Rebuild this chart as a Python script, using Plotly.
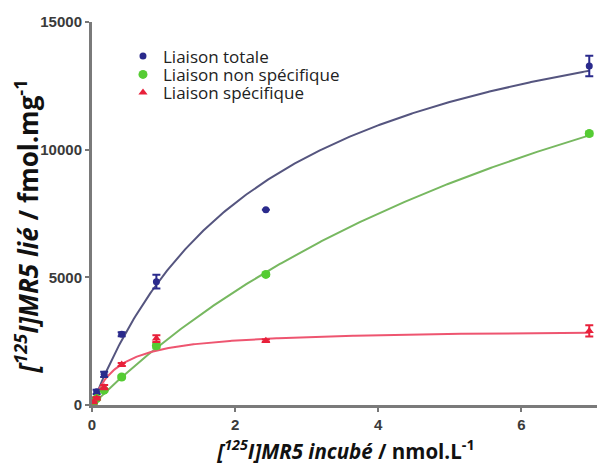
import numpy as np
import plotly.graph_objects as go

# Concentrations (nmol/L)
conc = [0.02, 0.065, 0.17, 0.415, 0.9, 2.43, 6.95]
# Binding values (fmol/mg)
total = [190, 515, 1200, 2770, 4830, 7650, 13280]
total_err = [60, 80, 100, 80, 270, 0, 400]
nonspec = [80, 250, 580, 1095, 2320, 5115, 10630]
nonspec_err = [20, 40, 50, 60, 100, 60, 80]
spec = [110, 265, 700, 1585, 2600, 2513, 2900]
spec_err = [30, 50, 80, 60, 130, 50, 220]

# Fitted hyperbola parameters (Bmax, Kd)
fit_total = (17800, 2.5)
fit_nonspec = (23670, 8.63)
fit_spec = (2980, 0.36)

names = ["Liaison totale", "Liaison non spécifique", "Liaison spécifique"]
marker_cols = ["#2a2a8c", "#55cc33", "#e8203a"]
line_cols = ["#55557f", "#77b860", "#ee5570"]
symbols = ["circle", "circle", "triangle-up"]
sizes = [7, 9, 8]
legend_ids = ["legend", "legend2", "legend3"]

xf = np.linspace(0, 6.95, 300)
fig = go.Figure()
series = [(total, total_err, fit_total), (nonspec, nonspec_err, fit_nonspec), (spec, spec_err, fit_spec)]
for i, (vals, errs, (bmax, kd)) in enumerate(series):
    yf = bmax * xf / (kd + xf)
    fig.add_trace(go.Scatter(x=xf, y=yf, mode="lines", line=dict(color=line_cols[i], width=2),
                             showlegend=False, hoverinfo="skip"))
for i, (vals, errs, _) in enumerate(series):
    fig.add_trace(go.Scatter(x=conc, y=vals, mode="markers", name=names[i], legend=legend_ids[i],
                             marker=dict(color=marker_cols[i], size=sizes[i], symbol=symbols[i]),
                             error_y=dict(type="data", array=errs, color=marker_cols[i], thickness=2, width=4)))

tick_font = dict(family="Liberation Sans", size=15, color="#3a3a3a", weight="bold")
leg_font = dict(family="Open Sans", size=17, color="#222222")
leg_common = dict(x=0.061, xanchor="left", yanchor="middle", font=leg_font,
                  bgcolor="rgba(0,0,0,0)", itemwidth=30)
fig.update_layout(
    width=597, height=457,
    margin=dict(l=84, r=5, t=9, b=60),
    paper_bgcolor="white", plot_bgcolor="white",
    font=dict(family="Open Sans"),
    legend=dict(y=0.910, **leg_common),
    legend2=dict(y=0.862, **leg_common),
    legend3=dict(y=0.815, **leg_common),
    xaxis=dict(range=[0, 7.1], tickvals=[0, 2, 4, 6], ticktext=["0", "2", "4", "6"],
               ticks="outside", ticklen=4, tickwidth=2,
               tickcolor="#777777", showline=True, linecolor="#7a7a7a", linewidth=3,
               showgrid=False, zeroline=False, tickfont=tick_font,
               title=dict(text="<b><i>[<sup>125</sup>I]MR5 incubé</i> / nmol.L<sup>-1</sup></b>",
                          font=dict(family="Open Sans", size=20.5, color="#111111"), standoff=13)),
    yaxis=dict(range=[0, 15000], tickvals=[0, 5000, 10000, 15000],
               ticktext=["0", "5000", "10000", "15000"], ticks="outside", ticklen=4, tickwidth=2,
               tickcolor="#777777", showline=True, linecolor="#7a7a7a", linewidth=3,
               showgrid=False, zeroline=False, tickfont=tick_font),
    annotations=[dict(text="<b><i>[<sup>125</sup>I]MR5 lié</i> / fmol.mg<sup>-1</sup></b>",
                      xref="paper", yref="paper", x=-0.128, y=0.466, xanchor="center", yanchor="middle",
                      textangle=-90, showarrow=False,
                      font=dict(family="Open Sans", size=26, color="#111111"))],
)
fig.write_html("out.html")
